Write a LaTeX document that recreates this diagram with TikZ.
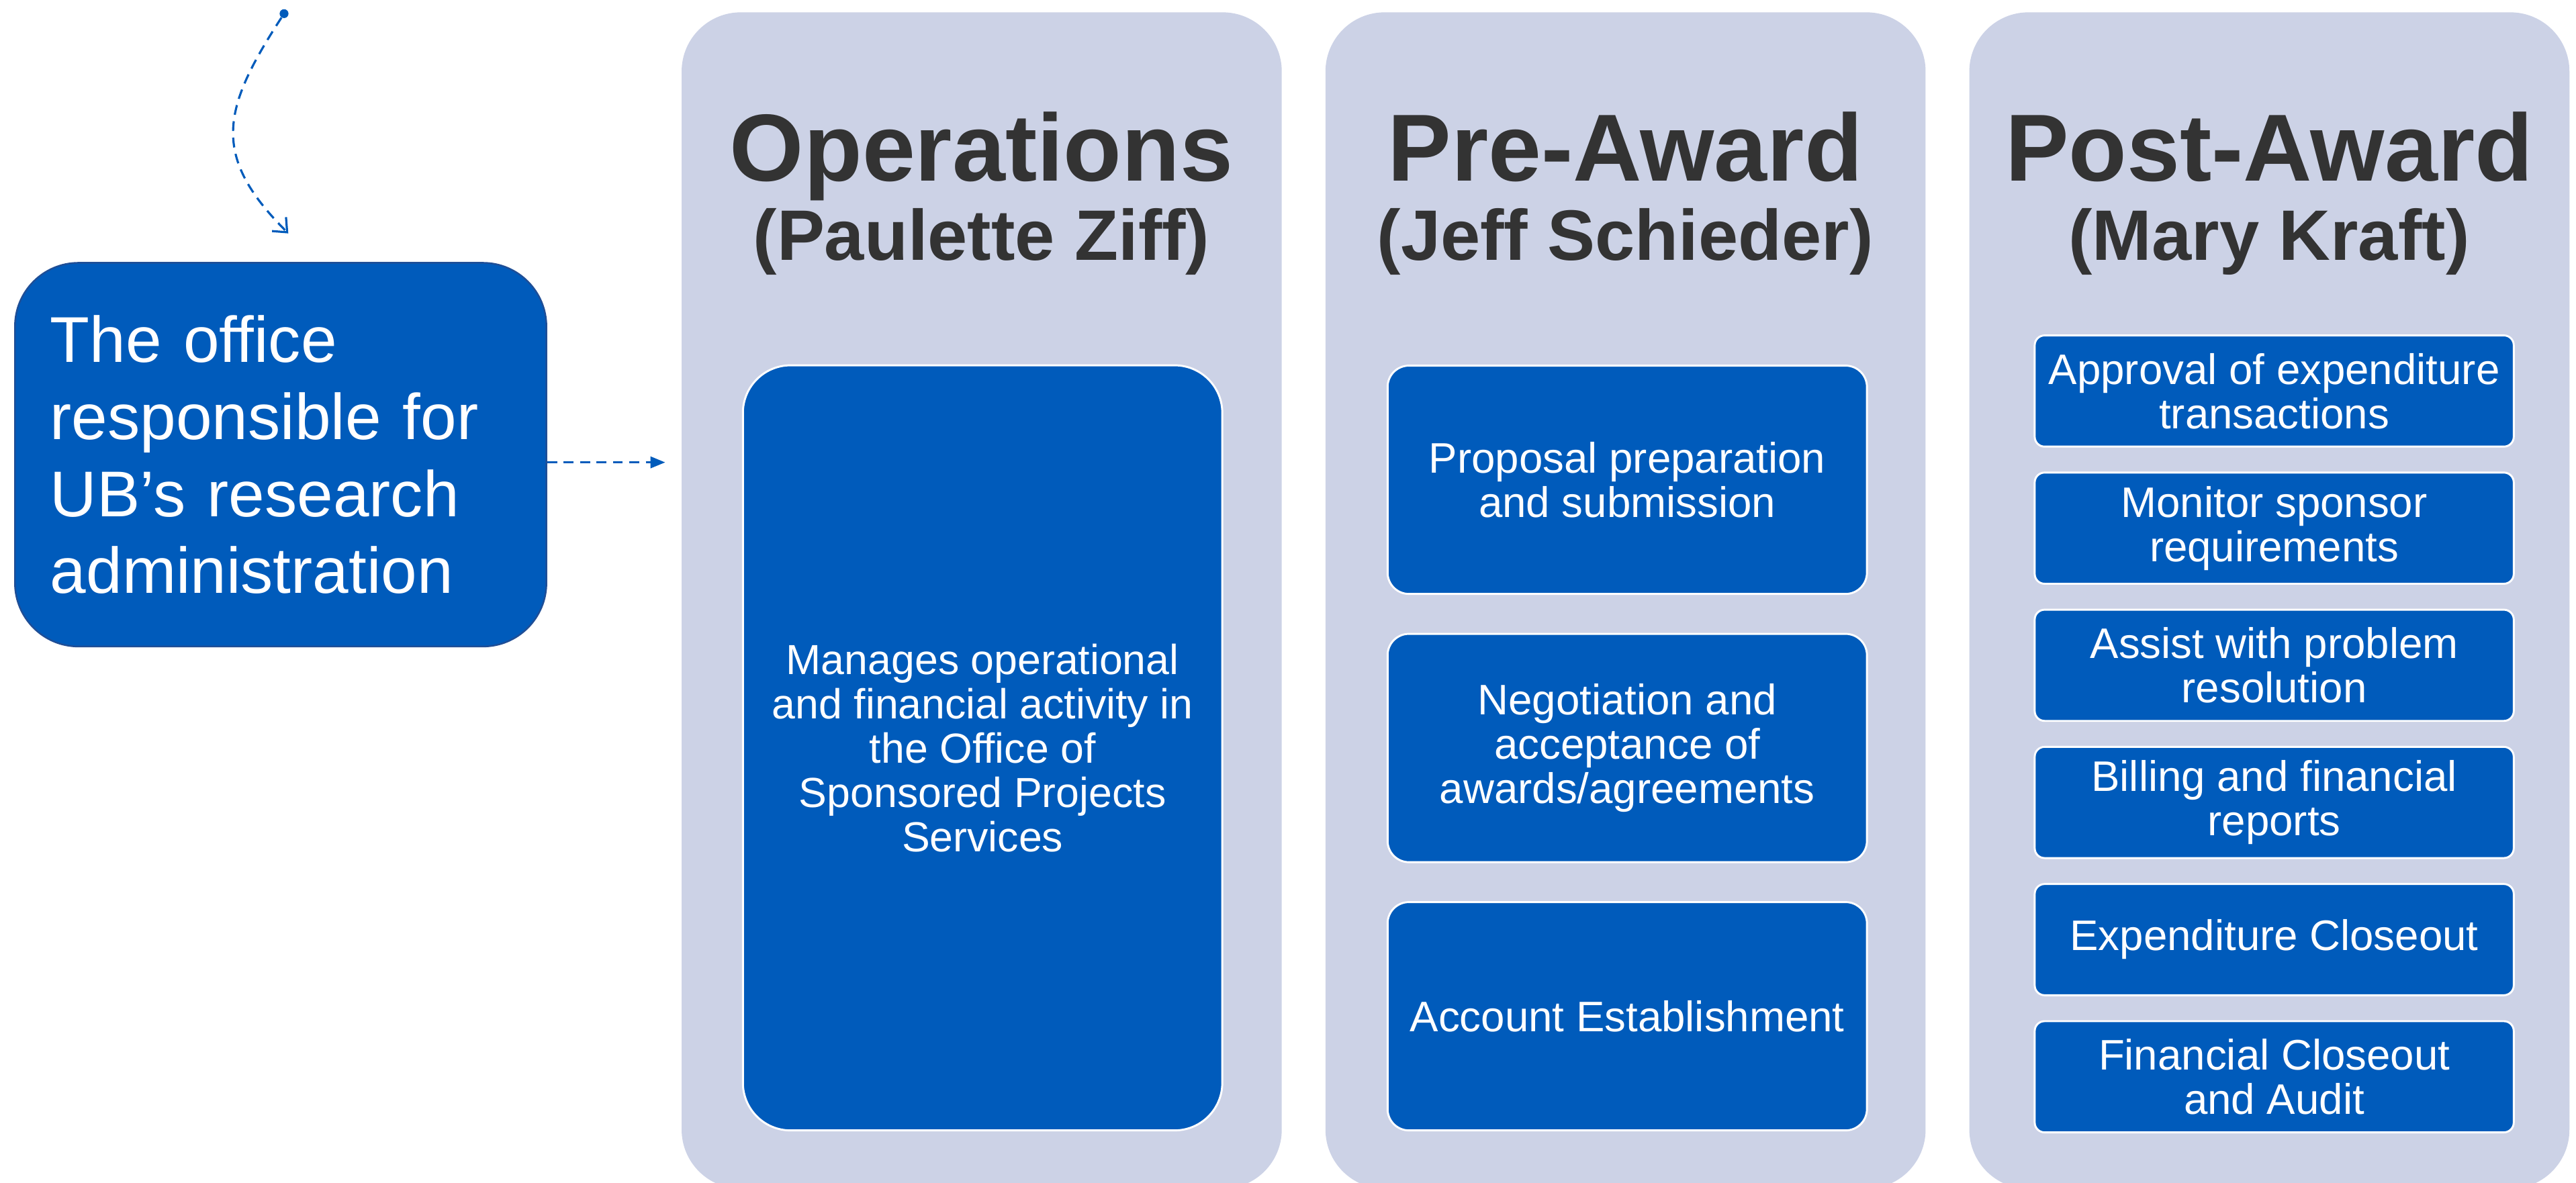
\documentclass[tikz,border=0pt]{standalone}
\usepackage{fontspec}
\setmainfont{Liberation Sans}
\usetikzlibrary{arrows.meta}
\definecolor{panelgray}{HTML}{CCD2E6}
\definecolor{ubblue}{HTML}{005BBB}
\definecolor{ubdark}{HTML}{1F4E96}
\definecolor{titlegray}{HTML}{333333}
\tikzset{
panel/.style={fill=panelgray,rounded corners=36pt,minimum width=365.3pt,minimum height=716.2pt,anchor=north west,inner sep=0pt},
task/.style={fill=ubblue,draw=white,line width=1.2pt,text=white,align=center,anchor=north west,inner sep=0pt,font=\fontsize{26}{27}\selectfont},
head/.style={text=titlegray,anchor=base,inner sep=0pt,font=\fontsize{58}{60}\selectfont\bfseries},
who/.style={text=titlegray,anchor=base,inner sep=0pt,font=\fontsize{43.5}{46}\selectfont\bfseries},
link/.style={draw=ubblue,line width=1.3pt,dash pattern=on 6pt off 4pt}
}
\begin{document}
\begin{tikzpicture}[x=1pt,y=1pt]
\useasboundingbox (0,0) rectangle (1568,-720.2);
\node[fill=ubblue,draw=ubdark,line width=1pt,rounded corners=38.7pt,anchor=north west,text=white,align=left,text width=280.5pt,inner xsep=21.5pt,inner ysep=0pt,minimum height=233.6pt,font=\fontsize{39.4}{46.9}\selectfont] (office) at (8.6,-159.5) {The office\\responsible for\\UB’s research\\administration};
\node[panel] (ops) at (414.7,-7.3) {};
\node[panel] (pre) at (806.6,-7.3) {};
\node[panel] (post) at (1198.5,-7.3) {};
\node[head] (opsT) at (597.4,-110) {Operations};
\node[who] (opsW) at (597.4,-158.3) {(Paulette Ziff)};
\node[head] (preT) at (989.3,-110) {Pre-Award};
\node[who] (preW) at (989.3,-158.3) {(Jeff Schieder)};
\node[head] (postT) at (1381.2,-110) {Post-Award};
\node[who] (postW) at (1381.2,-158.3) {(Mary Kraft)};
\node[task,rounded corners=29pt,minimum width=291.8pt,minimum height=465.8pt,font=\fontsize{25.6}{27}\selectfont] (opsA) at (451.6,-221.8) {Manages operational\\and financial activity in\\the Office of\\Sponsored Projects\\Services};
\node[task,rounded corners=13pt,minimum width=291.8pt,minimum height=139pt] (preA) at (844,-222) {Proposal preparation\\and submission};
\node[task,rounded corners=13pt,minimum width=291.8pt,minimum height=139pt] (preB) at (844,-385.3) {Negotiation and\\acceptance of\\awards/agreements};
\node[task,rounded corners=13pt,minimum width=291.8pt,minimum height=139pt] (preC) at (844,-548.6) {Account Establishment};
\node[task,rounded corners=6pt,minimum width=291.6pt,minimum height=67.7pt] (postA) at (1237.9,-203.6) {Approval of expenditure\\transactions};
\node[task,rounded corners=6pt,minimum width=291.6pt,minimum height=67.7pt] (postB) at (1237.9,-287.1) {Monitor sponsor\\requirements};
\node[task,rounded corners=6pt,minimum width=291.6pt,minimum height=67.7pt] (postC) at (1237.9,-370.6) {Assist with problem\\resolution};
\node[task,rounded corners=6pt,minimum width=291.6pt,minimum height=67.7pt] (postD) at (1237.9,-454.1) {Billing and financial\\reports};
\node[task,rounded corners=6pt,minimum width=291.6pt,minimum height=67.7pt] (postE) at (1237.9,-537.6) {Expenditure Closeout};
\node[task,rounded corners=6pt,minimum width=291.6pt,minimum height=67.7pt] (postF) at (1237.9,-621.1) {Financial Closeout\\and Audit};
\node[circle,fill=ubblue,inner sep=0pt,minimum size=5.4pt] (curlStart) at (172.9,-8.3) {};
\coordinate (curlEnd) at (175.5,-142.1);
\coordinate (opsIn) at (404.9,-281.5);
\draw[link,-{Straight Barb[length=7pt,width=12pt]}] (curlStart) to[out=237,in=135,looseness=1.3] (curlEnd);
\draw[link,-{Triangle[length=9pt,width=7pt]}] (office.east |- opsIn) -- (opsIn);
\end{tikzpicture}
\end{document}
